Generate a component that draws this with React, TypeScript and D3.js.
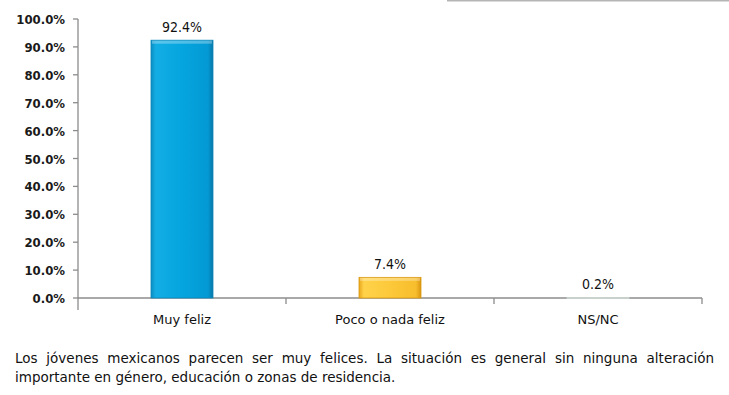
import * as d3 from "d3";
import { useEffect, useRef } from "react";

const categories = ["Muy feliz", "Poco o nada feliz", "NS/NC"];
const values = [92.4, 7.4, 0.2];
const yTicks = [0, 10, 20, 30, 40, 50, 60, 70, 80, 90, 100];
const captionLines = [
  "Los jóvenes mexicanos parecen ser muy felices. La situación es general sin ninguna alteración",
  "importante en género, educación o zonas de residencia.",
];

const barFills = ["url(#gBlue)", "url(#gYellow)", "url(#gGray)"];
const barStrokes = ["#0b86b8", "#d99a10", "#c9d3cc"];

export default function App() {
  const ref = useRef<SVGSVGElement | null>(null);

  useEffect(() => {
    if (!ref.current) return;
    const svg = d3.select(ref.current);
    svg.selectAll("*").remove();

    const left = 78;
    const right = 702;
    const top = 19;
    const bottom = 298;
    const font = "'DejaVu Sans', sans-serif";
    const condensed = "'DejaVu Sans Condensed', 'DejaVu Sans', sans-serif";

    const defs = svg.append("defs");
    const grad = (id: string, stops: [number, string][]) => {
      const g = defs.append("linearGradient").attr("id", id).attr("x1", 0).attr("x2", 1).attr("y1", 0).attr("y2", 0);
      stops.forEach(([o, c]) => g.append("stop").attr("offset", o).attr("stop-color", c));
    };
    grad("gBlue", [[0, "#0a8fc4"], [0.08, "#13ade4"], [0.5, "#05a5df"], [0.92, "#0399d4"], [1, "#0a78a8"]]);
    grad("gYellow", [[0, "#e9a81c"], [0.08, "#ffd24a"], [0.5, "#fcc93a"], [0.92, "#f7bd2c"], [1, "#d99511"]]);
    grad("gGray", [[0, "#d5ddd7"], [0.5, "#e8eee9"], [1, "#d0d8d2"]]);

    // stray top-right border from source slide
    svg.append("rect").attr("x", 447).attr("y", 0).attr("width", 282).attr("height", 1.5).attr("fill", "#b5b5b5");

    const x = d3.scaleBand<string>().domain(categories).range([left, right]);
    const y = d3.scaleLinear().domain([0, 100]).range([bottom, top]);

    const axisColor = "#8c8c8c";
    const g = svg.append("g");

    // y axis
    g.append("line").attr("x1", left).attr("x2", left).attr("y1", top).attr("y2", bottom + 12)
      .attr("stroke", axisColor).attr("stroke-width", 1.3);
    yTicks.forEach((t) => {
      g.append("line").attr("x1", left - 5).attr("x2", left).attr("y1", y(t)).attr("y2", y(t))
        .attr("stroke", axisColor).attr("stroke-width", 1.3);
      g.append("text").attr("x", 65).attr("y", y(t) + 5).attr("text-anchor", "end")
        .attr("font-family", condensed).attr("font-weight", "bold").attr("font-size", 13).attr("fill", "#1a1a1a")
        .text(`${t.toFixed(1)}%`);
    });

    // x axis
    g.append("line").attr("x1", left).attr("x2", right).attr("y1", bottom).attr("y2", bottom)
      .attr("stroke", axisColor).attr("stroke-width", 1.3);
    categories.forEach((c, i) => {
      const xe = (x(c) ?? 0) + x.bandwidth();
      g.append("line").attr("x1", xe).attr("x2", xe).attr("y1", bottom).attr("y2", bottom + 6)
        .attr("stroke", axisColor).attr("stroke-width", 1.3);
      const cx = (x(c) ?? 0) + x.bandwidth() / 2;
      g.append("text").attr("x", cx).attr("y", 324).attr("text-anchor", "middle")
        .attr("font-family", font).attr("font-size", 13).attr("fill", "#111").text(c);

      const bw = 62;
      const v = values[i];
      g.append("rect").attr("x", cx - bw / 2).attr("y", y(v)).attr("width", bw)
        .attr("height", Math.max(bottom - y(v), 1.2)).attr("fill", barFills[i])
        .attr("stroke", barStrokes[i]).attr("stroke-width", 0.8);
      if (bottom - y(v) > 4) {
        g.append("rect").attr("x", cx - bw / 2 + 1).attr("y", y(v) + 0.5).attr("width", bw - 2).attr("height", 3)
          .attr("fill", "#ffffff").attr("opacity", 0.3);
      }
      g.append("text").attr("x", cx).attr("y", y(v) - 8).attr("text-anchor", "middle")
        .attr("font-family", condensed).attr("font-size", 14).attr("fill", "#111").text(`${v.toFixed(1)}%`);
    });

    // caption, first line justified
    const capX0 = 15;
    const capX1 = 714;
    const line1 = captionLines[0].split(" ");
    const cap = svg.append("g").attr("font-family", font).attr("font-size", 13.5).attr("fill", "#111");
    const words = cap.selectAll("text.w").data(line1).join("text").attr("class", "w").attr("y", 363).text((d) => d);
    const widths: number[] = [];
    words.each(function () {
      widths.push((this as SVGTextElement).getComputedTextLength());
    });
    const gap = (capX1 - capX0 - d3.sum(widths)) / (line1.length - 1);
    let cur = capX0;
    words.attr("x", (_d, i) => {
      const p = cur;
      cur += widths[i] + gap;
      return p;
    });
    cap.append("text").attr("x", capX0).attr("y", 382).text(captionLines[1]);
  }, []);

  return <svg ref={ref} width={729} height={395} style={{ position: "absolute", left: 0, top: 0, background: "#fff" }} />;
}
